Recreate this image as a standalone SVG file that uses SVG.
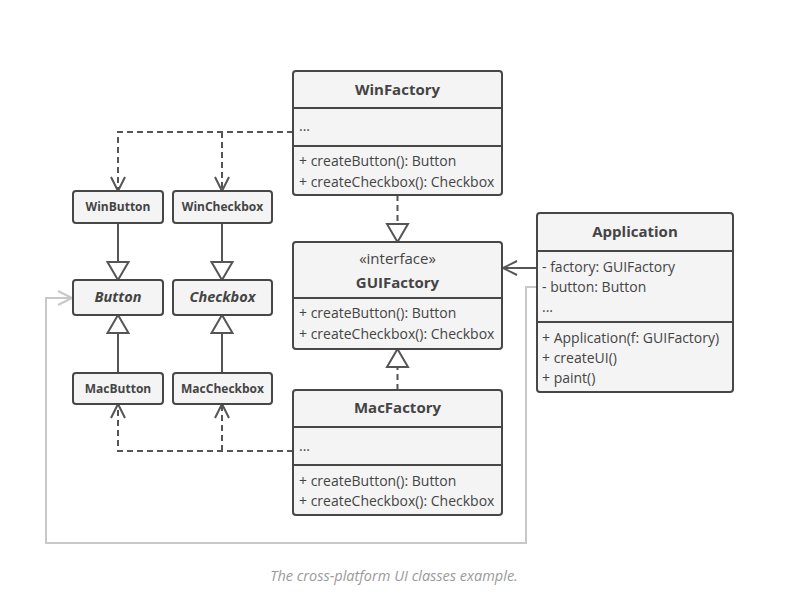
<svg xmlns="http://www.w3.org/2000/svg" width="786" height="595" viewBox="0 0 786 595">
<style>
.box{fill:#f4f4f4;stroke:#474747;stroke-width:2}
.div{stroke:#474747;stroke-width:2}
text{font-family:"Open Sans","Noto Sans",sans-serif;fill:#444}
.hdr{font-size:15px;font-weight:bold;text-anchor:middle}
.mem{font-size:14px}
.sm{font-size:12px;font-weight:bold;text-anchor:middle}
.abs{font-size:14.5px;font-weight:bold;font-style:italic;text-anchor:middle}
.ster{font-size:15px;text-anchor:middle}
.cap{font-size:14.5px;font-style:italic;fill:#9a9a9a;text-anchor:middle}
.c{fill:none;stroke:#555;stroke-width:2}
.d{stroke-dasharray:6,4}
.g{fill:none;stroke:#c8c8c8;stroke-width:2}
</style>
<defs>
<marker id="tri" markerUnits="userSpaceOnUse" markerWidth="24" markerHeight="26" viewBox="-2 -2 24 26" refX="18" refY="10.5" orient="auto">
<path d="M0,0 L18,10.5 L0,21 Z" fill="#fff" stroke="#555" stroke-width="2" stroke-dasharray="none"/>
</marker>
<marker id="open" markerUnits="userSpaceOnUse" markerWidth="20" markerHeight="20" viewBox="-2 -2 20 20" refX="14" refY="7" orient="auto">
<path d="M0,0 L14,7 L0,14" fill="none" stroke="#555" stroke-width="2" stroke-dasharray="none"/>
</marker>
<marker id="openg" markerUnits="userSpaceOnUse" markerWidth="20" markerHeight="20" viewBox="-2 -2 20 20" refX="14" refY="7" orient="auto">
<path d="M0,0 L14,7 L0,14" fill="none" stroke="#c8c8c8" stroke-width="2"/>
</marker>
</defs>
<rect width="786" height="595" fill="#fff"/>

<g id="connectors">
<path class="c d" d="M293,132 H118 V191" marker-end="url(#open)"/>
<path class="c d" d="M222,132 V191" marker-end="url(#open)"/>
<path class="c d" d="M293,451 H118 V404" marker-end="url(#open)"/>
<path class="c d" d="M222,451 V404" marker-end="url(#open)"/>
<path class="c" d="M118,223 V280" marker-end="url(#tri)"/>
<path class="c" d="M222,223 V280" marker-end="url(#tri)"/>
<path class="c" d="M118,373 V315" marker-end="url(#tri)"/>
<path class="c" d="M222,373 V315" marker-end="url(#tri)"/>
<path class="c d" d="M397.5,195 V242" marker-end="url(#tri)"/>
<path class="c d" d="M397.5,390 V349" marker-end="url(#tri)"/>
<path class="c" d="M537,268 H503" marker-end="url(#open)"/>
<path class="g" d="M537,287 H526 V543 H46 V298 H72" marker-end="url(#openg)"/>
</g>

<g id="WinFactory">
<rect class="box" x="293" y="71" width="209" height="124" rx="3"/>
<line class="div" x1="293" y1="108" x2="502" y2="108"/>
<line class="div" x1="293" y1="146" x2="502" y2="146"/>
<text class="hdr" x="397.5" y="95">WinFactory</text>
<text class="mem" x="299" y="131">...</text>
<text class="mem" x="299" y="166">+ createButton(): Button</text>
<text class="mem" x="299" y="187">+ createCheckbox(): Checkbox</text>
</g>

<g id="GUIFactory">
<rect class="box" x="293" y="242" width="209" height="107" rx="3"/>
<line class="div" x1="293" y1="298" x2="502" y2="298"/>
<text class="ster" x="397.5" y="264">«interface»</text>
<text class="hdr" x="397.5" y="288">GUIFactory</text>
<text class="mem" x="299" y="318">+ createButton(): Button</text>
<text class="mem" x="299" y="339">+ createCheckbox(): Checkbox</text>
</g>

<g id="MacFactory">
<rect class="box" x="293" y="390" width="209" height="125" rx="3"/>
<line class="div" x1="293" y1="427" x2="502" y2="427"/>
<line class="div" x1="293" y1="465" x2="502" y2="465"/>
<text class="hdr" x="397.5" y="413">MacFactory</text>
<text class="mem" x="299" y="451">...</text>
<text class="mem" x="299" y="486">+ createButton(): Button</text>
<text class="mem" x="299" y="506">+ createCheckbox(): Checkbox</text>
</g>

<g id="Application">
<rect class="box" x="537" y="213" width="196" height="179" rx="3"/>
<line class="div" x1="537" y1="251" x2="733" y2="251"/>
<line class="div" x1="537" y1="322" x2="733" y2="322"/>
<text class="hdr" x="635" y="237">Application</text>
<text class="mem" x="542" y="272">- factory: GUIFactory</text>
<text class="mem" x="542" y="292">- button: Button</text>
<text class="mem" x="542" y="312">...</text>
<text class="mem" x="542" y="343">+ Application(f: GUIFactory)</text>
<text class="mem" x="542" y="363">+ createUI()</text>
<text class="mem" x="542" y="383">+ paint()</text>
</g>

<g id="WinButton">
<rect class="box" x="73" y="191" width="90" height="32" rx="3"/>
<text class="sm" x="118" y="211">WinButton</text>
</g>
<g id="WinCheckbox">
<rect class="box" x="173" y="191" width="99" height="32" rx="3"/>
<text class="sm" x="222.5" y="211">WinCheckbox</text>
</g>
<g id="Button">
<rect class="box" x="73" y="280" width="90" height="35" rx="3"/>
<text class="abs" x="118" y="302">Button</text>
</g>
<g id="Checkbox">
<rect class="box" x="173" y="280" width="99" height="35" rx="3"/>
<text class="abs" x="222.5" y="302">Checkbox</text>
</g>
<g id="MacButton">
<rect class="box" x="73" y="373" width="90" height="31" rx="3"/>
<text class="sm" x="118" y="393">MacButton</text>
</g>
<g id="MacCheckbox">
<rect class="box" x="173" y="373" width="99" height="31" rx="3"/>
<text class="sm" x="222.5" y="393">MacCheckbox</text>
</g>

<text class="cap" x="394" y="581">The cross-platform UI classes example.</text>
</svg>
